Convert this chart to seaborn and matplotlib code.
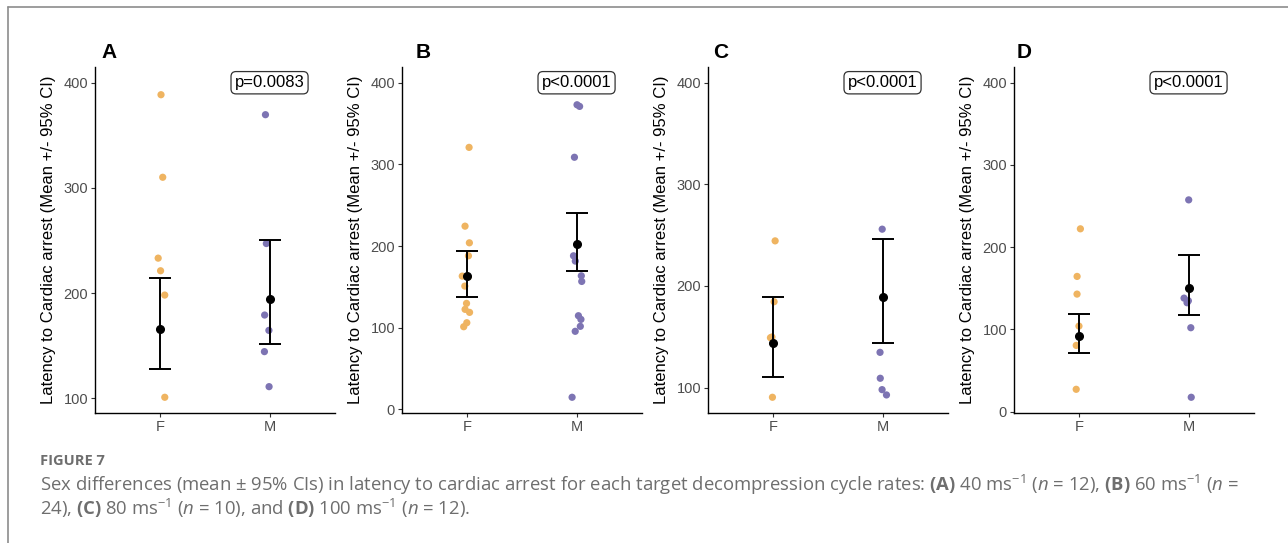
import numpy as np
import pandas as pd
import matplotlib.pyplot as plt
import matplotlib.lines as mlines
import seaborn as sns

sns.set_style("ticks")
plt.rcParams['font.family'] = ['Liberation Sans', 'DejaVu Sans']
plt.rcParams['text.color'] = 'black'
plt.rcParams['axes.labelcolor'] = 'black'
plt.rcParams['mathtext.fontset'] = 'custom'
plt.rcParams['mathtext.rm'] = 'Open Sans'
plt.rcParams['mathtext.it'] = 'Open Sans:italic'
plt.rcParams['mathtext.bf'] = 'Open Sans:bold'

# Latency to cardiac arrest per animal
a_f = [388.6, 310.1, 233.2, 221.2, 198.1, 100.9]
a_m = [369.6, 247.1, 179.1, 164.5, 144.3, 111.0]
b_f = [320.8, 224.3, 203.9, 188.0, 163.1, 162.0, 150.9, 129.7, 122.4, 118.7, 106.0, 101.1]
b_m = [373.0, 371.0, 308.7, 188.0, 181.5, 163.5, 156.6, 114.6, 110.1, 101.6, 95.5, 14.7]
c_f = [244.4, 184.5, 149.8, 149.1, 90.5]
c_m = [255.9, 134.7, 109.2, 98.0, 92.8]
d_f = [222.3, 164.4, 142.9, 104.0, 80.5, 27.1]
d_m = [257.5, 138.0, 134.8, 132.4, 102.0, 17.4]

# Mean and 95% CI per panel
mean_f = [165.5, 163.1, 144.2, 91.9]
lo_f = [127.5, 137.0, 110.8, 71.6]
hi_f = [213.9, 193.7, 188.8, 118.2]
mean_m = [194.6, 201.9, 189.1, 149.8]
lo_m = [151.6, 169.6, 144.2, 117.4]
hi_m = [250.0, 241.0, 246.4, 190.7]

sexes = ["F", "M"]
tags = ["A", "B", "C", "D"]
p_labels = ["p=0.0083", "p<0.0001", "p<0.0001", "p<0.0001"]
P_Y = 400

points = [(a_f, a_m), (b_f, b_m), (c_f, c_m), (d_f, d_m)]
palette = {"F": "#EFB461", "M": "#7D74B3"}

W, H = 1288, 543
fig = plt.figure(figsize=(W / 100, H / 100), dpi=100)

# axes placement in pixels: left spine x, tag x
ax_left = [95, 402, 708, 1014]
tag_x = [101, 416, 713, 1017]
ax_w, ax_top, ax_bot = 240, 67, 413

np.random.seed(3)
for i in range(4):
    ax = fig.add_axes([ax_left[i] / W, (H - ax_bot) / H, ax_w / W, (ax_bot - ax_top) / H])
    f_vals, m_vals = points[i]
    df = pd.DataFrame({"sex": ["F"] * len(f_vals) + ["M"] * len(m_vals),
                       "latency": f_vals + m_vals})

    sns.stripplot(data=df, x="sex", y="latency", hue="sex", order=sexes,
                  palette=palette, jitter=0.05, size=5.2, linewidth=0,
                  legend=False, ax=ax, zorder=2)

    # mean +/- 95% CI
    means = [mean_f[i], mean_m[i]]
    err = [[mean_f[i] - lo_f[i], mean_m[i] - lo_m[i]],
           [hi_f[i] - mean_f[i], hi_m[i] - mean_m[i]]]
    ax.errorbar([0, 1], means, yerr=err, fmt='o', color='black', ms=5.5,
                elinewidth=1.4, capsize=8, capthick=1.4, zorder=3)

    # p-value label
    ax.text(1, P_Y, p_labels[i], ha='center', va='center', fontsize=12, color='black',
            bbox=dict(boxstyle='round,pad=0.22,rounding_size=0.3',
                      fc='white', ec='#333333', lw=0.9))

    all_vals = f_vals + m_vals
    lo = min(all_vals)
    rng = P_Y - lo
    ax.set_ylim(lo - 0.05 * rng, P_Y + 0.05 * rng)
    ax.set_xlim(-0.6, 1.6)
    ax.set_yticks([t for t in range(0, 500, 100) if lo - 0.05 * rng <= t <= P_Y])

    ax.set_xlabel("")
    ax.set_ylabel("Latency to Cardiac arrest (Mean +/- 95% CI)", fontsize=12,
                  labelpad=5, color='black')
    ax.tick_params(axis='both', length=3, width=0.8, color='#333333',
                   labelsize=10.5, labelcolor='#4D4D4D', pad=2)
    sns.despine(ax=ax)
    for s in ["left", "bottom"]:
        ax.spines[s].set_linewidth(1.0)
        ax.spines[s].set_color('black')

    fig.text(tag_x[i] / W, 1 - 52 / H, tags[i], fontsize=15, fontweight='bold',
             color='black', ha='left', va='center')

# caption
cap_color = '#6E6E6E'
fig.text(40 / W, 1 - 461 / H, "FIGURE 7", fontsize=10.5, fontweight='bold',
         color=cap_color, family='Open Sans', va='center')
line1 = (r"Sex differences (mean ± 95% CIs) in latency to cardiac arrest for each target "
         r"decompression cycle rates: $\mathbf{(A)}$ 40 ms$^{-1}$ ($n$ = 12), "
         r"$\mathbf{(B)}$ 60 ms$^{-1}$ ($n$ =")
line2 = (r"24), $\mathbf{(C)}$ 80 ms$^{-1}$ ($n$ = 10), and $\mathbf{(D)}$ 100 ms$^{-1}$ "
         r"($n$ = 12).")
fig.text(40 / W, 1 - 485 / H, line1, fontsize=13.3, color=cap_color,
         family='Open Sans', va='center')
fig.text(40 / W, 1 - 508 / H, line2, fontsize=13.3, color=cap_color,
         family='Open Sans', va='center')

# outer frame (left and top edge)
fig.add_artist(mlines.Line2D([7.5 / W, 7.5 / W], [0, 1 - 7 / H], color='#8C8C8C', lw=1.2,
                             transform=fig.transFigure))
fig.add_artist(mlines.Line2D([7.5 / W, 1], [1 - 7 / H, 1 - 7 / H], color='#8C8C8C', lw=1.2,
                             transform=fig.transFigure))

fig.savefig("out.png", dpi=100)
